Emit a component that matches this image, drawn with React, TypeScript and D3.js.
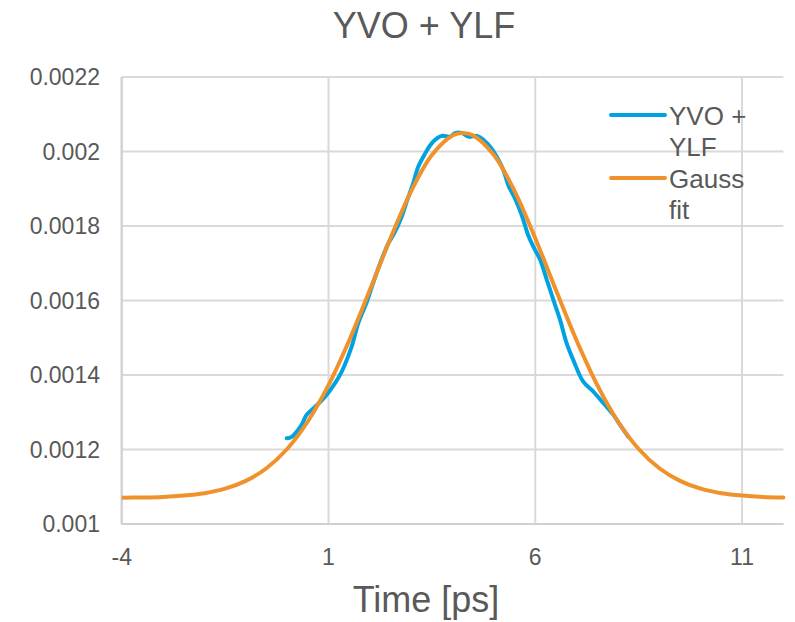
import React from "react";
import * as d3 from "d3";

// Measured autocorrelation trace (time in ps, signal in a.u.)
const traceTime = [
  -0.01, 0.11, 0.35, 0.47, 0.68, 0.92, 1.16, 1.32, 1.56, 1.72, 1.93, 2.05, 2.25, 2.45,
  2.57, 2.77, 2.89, 3.05, 3.17, 3.34, 3.46, 3.62, 3.74, 3.94, 4.06, 4.22, 4.38, 4.59,
  4.75, 4.91, 5.07, 5.23, 5.35, 5.51, 5.67, 5.83, 5.95, 6.12, 6.28, 6.44, 6.6, 6.76,
  6.92, 7.16, 7.41, 7.65, 7.89, 8.05, 8.25,
];
const traceValue = [
  0.00123, 0.001234, 0.001266, 0.001293, 0.001315, 0.001342, 0.001378, 0.001409,
  0.001476, 0.001539, 0.001597, 0.001637, 0.0017, 0.001754, 0.001776, 0.001825,
  0.001865, 0.001915, 0.001959, 0.001995, 0.002017, 0.002035, 0.002042, 0.00204,
  0.002049, 0.00205, 0.00204, 0.002042, 0.002031, 0.002013, 0.001986, 0.00195,
  0.001909, 0.001874, 0.00183, 0.001775, 0.001745, 0.001709, 0.001655, 0.001601,
  0.001548, 0.001485, 0.00144, 0.001382, 0.001355, 0.001324, 0.001293, 0.001266,
  0.001234,
];

// Gaussian fit sampled across the full time window
const fitTime = [
  -4, -3.5, -3, -2.5, -2, -1.5, -1, -0.5, 0, 0.5, 1, 1.5, 2, 2.5, 3, 3.5, 4, 4.25, 4.5,
  5, 5.5, 6, 6.5, 7, 7.5, 8, 8.5, 9, 9.5, 10, 10.5, 11, 11.5, 12,
];
const fitValue = [
  0.0010705, 0.0010712, 0.0010728, 0.0010762, 0.0010827, 0.0010948, 0.0011157,
  0.0011497, 0.0012014, 0.0012751, 0.0013726, 0.0014925, 0.001628, 0.0017671,
  0.0018937, 0.0019905, 0.0020432, 0.00205, 0.0020432, 0.0019905, 0.0018937,
  0.0017671, 0.001628, 0.0014925, 0.0013726, 0.0012751, 0.0012014, 0.0011497,
  0.0011157, 0.0010948, 0.0010827, 0.0010762, 0.0010728, 0.0010712,
];

const xTicks = [-4, 1, 6, 11];
const yTicks = [0.001, 0.0012, 0.0014, 0.0016, 0.0018, 0.002, 0.0022];
const yTickLabels = ["0.001", "0.0012", "0.0014", "0.0016", "0.0018", "0.002", "0.0022"];

const chartTitle = "YVO + YLF";
const xAxisTitle = "Time [ps]";
const legendItems = [
  { lines: ["YVO +", "YLF"], color: "#00A2E1" },
  { lines: ["Gauss", "fit"], color: "#F0922B" },
];

const W = 795;
const H = 622;
const plot = { left: 121.7, right: 783.4, top: 77, bottom: 524 };
const textColor = "#595959";
const gridColor = "#D9D9D9";
const font = "'Liberation Sans', Arial, sans-serif";

export default function App() {
  const x = d3.scaleLinear().domain([-4, 12]).range([plot.left, plot.right]);
  const y = d3.scaleLinear().domain([0.001, 0.0022]).range([plot.bottom, plot.top]);

  const line = d3
    .line<[number, number]>()
    .x((d) => x(d[0]))
    .y((d) => y(d[1]))
    .curve(d3.curveCatmullRom.alpha(0.5));

  const tracePath = line(traceTime.map((t, i) => [t, traceValue[i]]) as [number, number][]);
  const fitPath = line(fitTime.map((t, i) => [t, fitValue[i]]) as [number, number][]);

  return (
    <svg
      width={W}
      height={H}
      style={{ position: "absolute", left: 0, top: 0, background: "#fff" }}
      fontFamily={font}
    >
      <rect width={W} height={H} fill="#fff" />

      {/* horizontal gridlines */}
      {yTicks.map((t) => (
        <line
          key={"gy" + t}
          x1={plot.left}
          x2={plot.right}
          y1={y(t)}
          y2={y(t)}
          stroke={gridColor}
          strokeWidth={2}
        />
      ))}
      {/* vertical gridlines */}
      {xTicks.map((t) => (
        <line
          key={"gx" + t}
          x1={x(t)}
          x2={x(t)}
          y1={plot.top}
          y2={plot.bottom}
          stroke={gridColor}
          strokeWidth={2}
        />
      ))}
      {/* axis lines */}
      <line x1={plot.left} x2={plot.left} y1={plot.top} y2={plot.bottom} stroke="#D0D0D0" strokeWidth={2} />
      <line x1={plot.left} x2={plot.right} y1={plot.bottom} y2={plot.bottom} stroke="#D0D0D0" strokeWidth={2} />

      {/* y tick labels */}
      {yTicks.map((t, i) => (
        <text
          key={"ly" + t}
          x={100}
          y={y(t)}
          dy="0.35em"
          textAnchor="end"
          fontSize={23}
          fill={textColor}
        >
          {yTickLabels[i]}
        </text>
      ))}
      {/* x tick labels */}
      {xTicks.map((t) => (
        <text key={"lx" + t} x={x(t)} y={565} textAnchor="middle" fontSize={23} fill={textColor}>
          {t}
        </text>
      ))}

      <defs>
        <clipPath id="plotClip">
          <rect x={plot.left} y={plot.top - 10} width={plot.right - plot.left + 4} height={plot.bottom - plot.top + 10} />
        </clipPath>
      </defs>
      <g clipPath="url(#plotClip)">
        <path d={tracePath ?? ""} fill="none" stroke={legendItems[0].color} strokeWidth={4} strokeLinejoin="round" strokeLinecap="round" />
        <path d={fitPath ?? ""} fill="none" stroke={legendItems[1].color} strokeWidth={4} strokeLinejoin="round" strokeLinecap="round" />
      </g>

      {/* legend */}
      {legendItems.map((item, i) => {
        const top = 115 + i * 63;
        return (
          <g key={"lg" + i}>
            <line x1={611} x2={665} y1={top} y2={top} stroke={item.color} strokeWidth={4} strokeLinecap="round" />
            {item.lines.map((s, j) => (
              <text key={j} x={669} y={top + 10 + j * 30.5} fontSize={26} fill={textColor}>
                {s}
              </text>
            ))}
          </g>
        );
      })}

      {/* titles */}
      <text x={424} y={38} textAnchor="middle" fontSize={36} fill={textColor}>
        {chartTitle}
      </text>
      <text x={426} y={612} textAnchor="middle" fontSize={36} fill={textColor}>
        {xAxisTitle}
      </text>
    </svg>
  );
}
